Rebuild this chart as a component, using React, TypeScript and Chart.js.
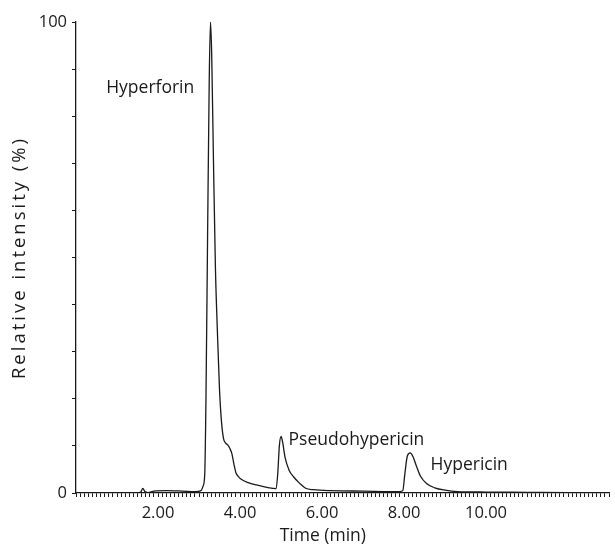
import React, { useEffect, useRef } from "react";
import { Chart, registerables } from "chart.js";

Chart.register(...registerables);

// Retention time (min) and relative intensity (%)
const timeMin = [
  0.0, 1.5, 1.58, 1.63, 1.68, 1.75, 1.9, 2.2, 2.6, 2.9, 3.05, 3.1, 3.14, 3.17, 3.21, 3.25, 3.28, 3.31,
  3.35, 3.4, 3.45, 3.5, 3.55, 3.6, 3.65, 3.7, 3.75, 3.8, 3.85, 3.9, 3.95, 4.05, 4.2, 4.4, 4.6, 4.8,
  4.88, 4.92, 4.96, 5.0, 5.04, 5.1, 5.2, 5.3, 5.45, 5.6, 5.8, 6.2, 7.0, 7.9, 7.97, 8.02, 8.08, 8.15,
  8.22, 8.3, 8.4, 8.55, 8.75, 9.0, 9.3, 10.0, 11.0, 12.0, 13.0,
];
const intensity = [
  0.0, 0.0, 0.2, 1.0, 0.3, 0.1, 0.4, 0.5, 0.4, 0.3, 0.5, 1.5, 4, 20, 55, 88, 100, 93,
  72, 48, 34, 22, 15, 11.5, 10.6, 10.2, 9.5, 8.4, 6.2, 4.3, 3.6, 2.8, 2.2, 1.7, 1.3, 1.0,
  0.9, 4, 10, 12, 10.8, 7.5, 4.8, 3.5, 2.1, 1.0, 0.7, 0.5, 0.4, 0.3, 0.5, 4, 7.8, 8.5,
  7.7, 5.8, 3.6, 2.0, 1.1, 0.6, 0.3, 0.2, 0.15, 0.1, 0.1,
];

const xLabelValues = [2, 4, 6, 8, 10];
const yLabelValues = [0, 100];

const peakNames = ["Hyperforin", "Pseudohypericin", "Hypericin"];
const peakLabelX = [1.81, 6.84, 9.59];
const peakLabelY = [86, 11.3, 5.9];

const xTitle = "Time (min)";
const xTitleAt = 6.02;
const yTitle = "Relative intensity (%)";
const yTitleAt = 50;

const FONT = "'Open Sans', 'Noto Sans', sans-serif";
const INK = "#1a1a1a";

const labelsPlugin = {
  id: "peakLabels",
  afterDraw(chart: any) {
    const { ctx, scales } = chart;
    const xs = scales.x;
    const ys = scales.y;
    ctx.save();
    ctx.fillStyle = INK;
    ctx.textAlign = "center";
    ctx.textBaseline = "middle";
    ctx.font = `17.5px ${FONT}`;
    peakNames.forEach((name, i) => {
      ctx.fillText(name, xs.getPixelForValue(peakLabelX[i]), ys.getPixelForValue(peakLabelY[i]));
    });
    ctx.fillText(xTitle, xs.getPixelForValue(xTitleAt), xs.bottom - 9);
    // y axis title (letter-spaced as in the original)
    ctx.save();
    ctx.translate(ys.left + 20, ys.getPixelForValue(yTitleAt));
    ctx.rotate(-Math.PI / 2);
    ctx.font = `18.5px ${FONT}`;
    (ctx as any).letterSpacing = "3px";
    ctx.fillText(yTitle, 0, 0);
    ctx.restore();
    ctx.restore();
  },
};

export default function App() {
  const ref = useRef<HTMLCanvasElement | null>(null);

  useEffect(() => {
    if (!ref.current) return;
    const data = timeMin.map((t, i) => ({ x: t, y: intensity[i] }));
    const chart = new Chart(ref.current, {
      type: "line",
      data: {
        datasets: [
          {
            data,
            borderColor: INK,
            borderWidth: 1.3,
            pointRadius: 0,
            cubicInterpolationMode: "monotone",
            fill: false,
          },
        ],
      },
      options: {
        responsive: false,
        animation: false,
        layout: { padding: { top: 22, left: 0, right: 0, bottom: 0 } },
        plugins: { legend: { display: false }, tooltip: { enabled: false } },
        scales: {
          x: {
            type: "linear",
            min: 0,
            max: 13,
            afterFit: (s: any) => {
              s.height = 52;
            },
            border: { display: true, color: INK, width: 1.3 },
            grid: { drawOnChartArea: false, tickLength: 4, color: INK, tickWidth: 1 },
            ticks: {
              stepSize: 0.1,
              autoSkip: false,
              maxRotation: 0,
              minRotation: 0,
              padding: 6,
              color: INK,
              font: { family: FONT, size: 16.5 },
              callback: (v: any) => {
                const n = Number(v);
                const r = Math.round(n);
                return Math.abs(n - r) < 1e-6 && xLabelValues.includes(r) ? r.toFixed(2) : "";
              },
            },
            title: { display: false },
          },
          y: {
            min: 0,
            max: 100,
            afterFit: (s: any) => {
              s.width = 76;
            },
            border: { display: true, color: INK, width: 1.3 },
            grid: { drawOnChartArea: false, tickLength: 4, color: INK, tickWidth: 1 },
            ticks: {
              stepSize: 10,
              padding: 5,
              color: INK,
              font: { family: FONT, size: 16.5 },
              callback: (v: any) => (yLabelValues.includes(Number(v)) ? String(v) : ""),
            },
            title: { display: false },
          },
        },
      },
      plugins: [labelsPlugin],
    });
    return () => chart.destroy();
  }, []);

  return (
    <div style={{ position: "absolute", left: 0, top: 0, width: 615, height: 545, background: "#fff" }}>
      <canvas ref={ref} width={615} height={545} style={{ display: "block" }} />
    </div>
  );
}
